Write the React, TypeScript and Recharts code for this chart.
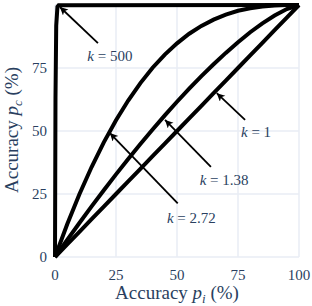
import { LineChart, Line, XAxis, YAxis, CartesianGrid, ReferenceLine, ReferenceDot } from 'recharts';

// accuracy of the individual (x) and the combined result (y), in %
const pi = [0, 5, 10, 15, 20, 25, 30, 35, 40, 45, 50, 55, 60, 65, 70, 75, 80, 85, 90, 95, 100];
const pcK1 = [0, 5, 10, 15, 20, 25, 30, 35, 40, 45, 50, 55, 60, 65, 70, 75, 80, 85, 90, 95, 100];
const pcK138 = [0, 6.8, 13.5, 20.1, 26.5, 32.8, 38.9, 44.8, 50.6, 56.2, 61.6, 66.8, 71.8, 76.5, 81.0, 85.2, 89.2, 92.7, 95.8, 98.4, 100];
const pcK272 = [0, 13.0, 24.9, 35.7, 45.5, 54.3, 62.1, 69.0, 75.1, 80.3, 84.8, 88.6, 91.7, 94.2, 96.2, 97.7, 98.7, 99.4, 99.8, 100, 100];
const piK500 = [0, 0.2, 0.5, 1, 1.5, 100];
const pcK500 = [0, 63.3, 91.8, 99.3, 99.9, 100];

const xTicks = [0, 25, 50, 75, 100];
const yTicks = [0, 25, 50, 75];

// annotation: label position, arrow tail and arrow tip
const notes = [
  { k: '500', tx: 22.5, ty: 79.8, x1: 17.6, y1: 84.9, x2: 2.0, y2: 99.2 },
  { k: '2.72', tx: 55.9, ty: 15.6, x1: 50.3, y1: 21.3, x2: 22.5, y2: 49.2 },
  { k: '1.38', tx: 69.3, ty: 30.6, x1: 63.9, y1: 35.8, x2: 45.1, y2: 54.4 },
  { k: '1', tx: 82.4, ty: 49.7, x1: 77.9, y1: 54.4, x2: 66.3, y2: 65.0 },
];

const toPoints = (xs: number[], ys: number[]) => xs.map((x, i) => ({ x, y: ys[i] }));

const TEXT = '#2a3f5f';
const FONT = "'Tinos', 'Times New Roman', 'Liberation Serif', 'Noto Serif', 'DejaVu Serif', serif";

const XTitle = (props: any) => {
  const { x, y, width } = props.viewBox;
  return (
    <text x={x + width / 2} y={y + 42} textAnchor="middle" style={{ fontFamily: FONT }} fontSize={19} fill={TEXT}>
      <tspan>Accuracy </tspan>
      <tspan fontStyle="italic">p</tspan>
      <tspan fontStyle="italic" fontSize={13} dy={4}>i</tspan>
      <tspan dy={-4}>{' (%)'}</tspan>
    </text>
  );
};

const YTitle = () => (
  <text x={18} y={130} transform="rotate(-90 18 130)" textAnchor="middle" style={{ fontFamily: FONT }} fontSize={19} fill={TEXT}>
    <tspan>Accuracy </tspan>
    <tspan fontStyle="italic">p</tspan>
    <tspan fontStyle="italic" fontSize={13} dy={4}>c</tspan>
    <tspan dy={-4}>{' (%)'}</tspan>
  </text>
);

export default function App() {
  return (
    <div style={{ position: 'absolute', left: 0, top: 0, background: '#fff', fontFamily: FONT }}>
      <svg width={0} height={0} style={{ position: 'absolute' }}>
        <defs>
          <marker id="arrowhead" markerUnits="userSpaceOnUse" markerWidth={9} markerHeight={9} refX={8} refY={4} orient="auto">
            <path d="M0,0 L8,4 L0,8 L2,4 z" fill="#000" />
          </marker>
        </defs>
      </svg>
      <LineChart width={312} height={306} margin={{ top: 5, right: 13, bottom: 0, left: 0 }} style={{ fontFamily: FONT }}>
        <CartesianGrid stroke="#e8edf5" strokeWidth={1.5} />
        <XAxis
          dataKey="x"
          type="number"
          domain={[0, 100]}
          ticks={xTicks}
          height={49}
          axisLine={false}
          tickLine={false}
          tickSize={0}
          tickMargin={12}
          tick={{ fontFamily: FONT, fontSize: 15, fill: TEXT }}
          label={{ content: XTitle }}
        />
        <YAxis
          type="number"
          domain={[0, 100]}
          ticks={yTicks}
          width={55}
          axisLine={false}
          tickLine={false}
          tickSize={0}
          tickMargin={8}
          tick={{ fontFamily: FONT, fontSize: 15, fill: TEXT }}
          label={{ content: YTitle }}
        />
        <Line data={toPoints(pi, pcK1)} dataKey="y" type="linear" stroke="#000" strokeWidth={4} dot={false} isAnimationActive={false} />
        <Line data={toPoints(pi, pcK138)} dataKey="y" type="linear" stroke="#000" strokeWidth={4} dot={false} isAnimationActive={false} />
        <Line data={toPoints(pi, pcK272)} dataKey="y" type="linear" stroke="#000" strokeWidth={4} dot={false} isAnimationActive={false} />
        <Line data={toPoints(piK500, pcK500)} dataKey="y" type="linear" stroke="#000" strokeWidth={4} dot={false} isAnimationActive={false} />
        {notes.map((n) => (
          <ReferenceLine
            key={`arrow-${n.k}`}
            segment={[{ x: n.x1, y: n.y1 }, { x: n.x2, y: n.y2 }]}
            stroke="#000"
            strokeWidth={1.8}
            markerEnd="url(#arrowhead)"
          />
        ))}
        {notes.map((n) => (
          <ReferenceDot
            key={`note-${n.k}`}
            x={n.tx}
            y={n.ty}
            r={1}
            shape={(p: any) => (
              <text x={p.cx} y={p.cy} textAnchor="middle" dominantBaseline="central" style={{ fontFamily: FONT }} fontSize={15} fill={TEXT}>
                <tspan fontStyle="italic">k</tspan>
                {` = ${n.k}`}
              </text>
            )}
          />
        ))}
      </LineChart>
    </div>
  );
}
